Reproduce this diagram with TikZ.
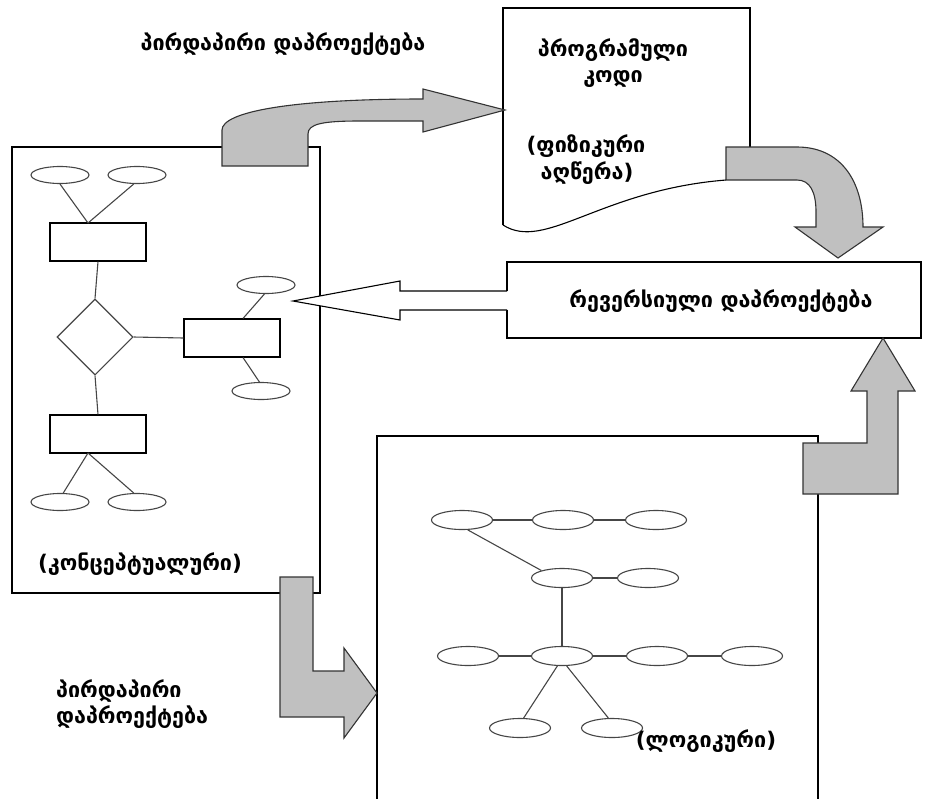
\documentclass[tikz,border=0pt]{standalone}
\usepackage{fontspec}
\newfontfamily\geo{DejaVu Sans}
\usetikzlibrary{shapes.geometric}
\definecolor{arrowgray}{RGB}{192,192,192}
\definecolor{linegray}{RGB}{70,70,70}
\begin{document}
\begin{tikzpicture}[x=1pt,y=-1pt,
  lbl/.style={font=\geo\bfseries\fontsize{21.5}{24}\selectfont, inner sep=0pt},
  ell/.style={draw=linegray, line width=1.1pt, ellipse, minimum width=58pt, minimum height=17pt, inner sep=0pt},
  lell/.style={draw=linegray, line width=1.1pt, ellipse, minimum width=61pt, minimum height=19pt, inner sep=0pt},
  ent/.style={draw=black, line width=1.1pt, rectangle, minimum width=96pt, minimum height=38pt, inner sep=0pt},
  rel/.style={draw=linegray, line width=1.1pt, diamond, minimum width=76pt, minimum height=76pt, inner sep=0pt},
  conn/.style={draw=linegray, line width=1.1pt},
  frame/.style={draw=black, line width=1.1pt},
  blockarrow/.style={draw=black!80, line width=1.1pt, fill=arrowgray, line join=miter},
]
\useasboundingbox (0,0) rectangle (928,798);

% ---------- frames ----------
\draw[frame] (12,147) rectangle (320,593);
\draw[frame] (377,800) -- (377,436) -- (818,436) -- (818,800);
\draw[frame] (503,225) -- (503,8) -- (750,8) -- (750,147);
\draw[frame] (503,225) .. controls (545,252) and (600,190) .. (726,180);
\draw[frame] (507,291) -- (507,262) -- (921,262) -- (921,338) -- (507,338) -- (507,310);

% ---------- conceptual ER diagram ----------
\node[ell] (e1) at (60,175) {};
\node[ell] (e2) at (137,175) {};
\node[ent] (r1) at (98,242) {};
\node[rel] (d) at (95,337) {};
\node[ent] (r2) at (98,434) {};
\node[ell] (e3) at (60,502) {};
\node[ell] (e4) at (137,502) {};
\node[ent] (r3) at (232,338) {};
\node[ell] (e5) at (266,285) {};
\node[ell] (e6) at (261,391) {};
\coordinate (r1t) at (88,223);
\coordinate (r2b) at (88,453);
\draw[conn] (e1.south) -- (r1t);
\draw[conn] (e2.-110) -- (r1t);
\draw[conn] (r1.south) -- (d.north);
\draw[conn] (d.south) -- (r2.north);
\draw[conn] (d.east) -- (r3.west);
\draw[conn] (r2b) -- (e3.70);
\draw[conn] (r2b) -- (e4.110);
\draw[conn] (e5.-100) -- ([xshift=11pt]r3.north);
\draw[conn] ([xshift=11pt]r3.south) -- (e6.100);
\node[lbl] (tconc) at (140,564) {(კონცეპტუალური)};

% ---------- logical graph ----------
\node[lell] (l11) at (462,520) {};
\node[lell] (l12) at (563,520) {};
\node[lell] (l13) at (656,520) {};
\node[lell] (l21) at (562,578) {};
\node[lell] (l22) at (648,578) {};
\node[lell] (l31) at (468,656) {};
\node[lell] (l32) at (562,656) {};
\node[lell] (l33) at (657,656) {};
\node[lell] (l34) at (752,656) {};
\node[lell] (l41) at (520,728) {};
\node[lell] (l42) at (612,728) {};
\draw[conn] (l11.east) -- (l12.west);
\draw[conn] (l12.east) -- (l13.west);
\draw[conn] (l21.east) -- (l22.west);
\draw[conn] (l11.-60) -- (l21.160);
\draw[conn] (l21.south) -- (l32.north);
\draw[conn] (l31.east) -- (l32.west);
\draw[conn] (l32.east) -- (l33.west);
\draw[conn] (l33.east) -- (l34.west);
\draw[conn] (l32.-115) -- (l41.70);
\draw[conn] (l32.-65) -- (l42.110);
\node[lbl] (tlog) at (706,741) {(ლოგიკური)};

% ---------- block arrows ----------
\draw[blockarrow] (222,166) -- (222,130) .. controls (222,112) and (290,99) .. (423,99)
  -- (423,89) -- (505,110) -- (423,132) -- (423,121) -- (360,121)
  .. controls (322,121) and (308,124) .. (308,134) -- (308,166) -- cycle;
\draw[blockarrow] (726,147) -- (797,147) .. controls (840,147) and (863,180) .. (863,227)
  -- (883,227) -- (838,258) -- (795,227) -- (816,227) -- (816,212)
  .. controls (816,192) and (810,180) .. (797,180) -- (726,180) -- cycle;
\draw[blockarrow] (803,443) -- (867,443) -- (867,391) -- (851,391) -- (883,338)
  -- (915,391) -- (898,391) -- (898,494) -- (803,494) -- cycle;
\draw[blockarrow] (280,577) -- (313,577) -- (313,671) -- (344,671) -- (344,648)
  -- (377,693) -- (344,738) -- (344,717) -- (280,717) -- cycle;
\fill[white] (507,291) -- (400,291) -- (400,281) -- (293,301) -- (400,320) -- (400,310) -- (507,310) -- cycle;
\draw[frame, line join=miter] (507,291) -- (400,291) -- (400,281) -- (293,301) -- (400,320) -- (400,310) -- (507,310);

% ---------- labels ----------
\node[lbl] (ttop) at (283,44) {პირდაპირი დაპროექტება};
\node[lbl] (tprog) at (613,50) {პროგრამული};
\node[lbl] (tcode) at (613,79) {კოდი};
\node[lbl] (tphys1) at (586,146) {(ფიზიკური};
\node[lbl] (tphys2) at (587,173) {აღწერა)};
\node[lbl] (trev) at (721,301) {რევერსიული დაპროექტება};
\node[lbl, anchor=west] (tdir1) at (56,691) {პირდაპირი};
\node[lbl, anchor=west] (tdir2) at (56,717) {დაპროექტება};
\end{tikzpicture}
\end{document}
